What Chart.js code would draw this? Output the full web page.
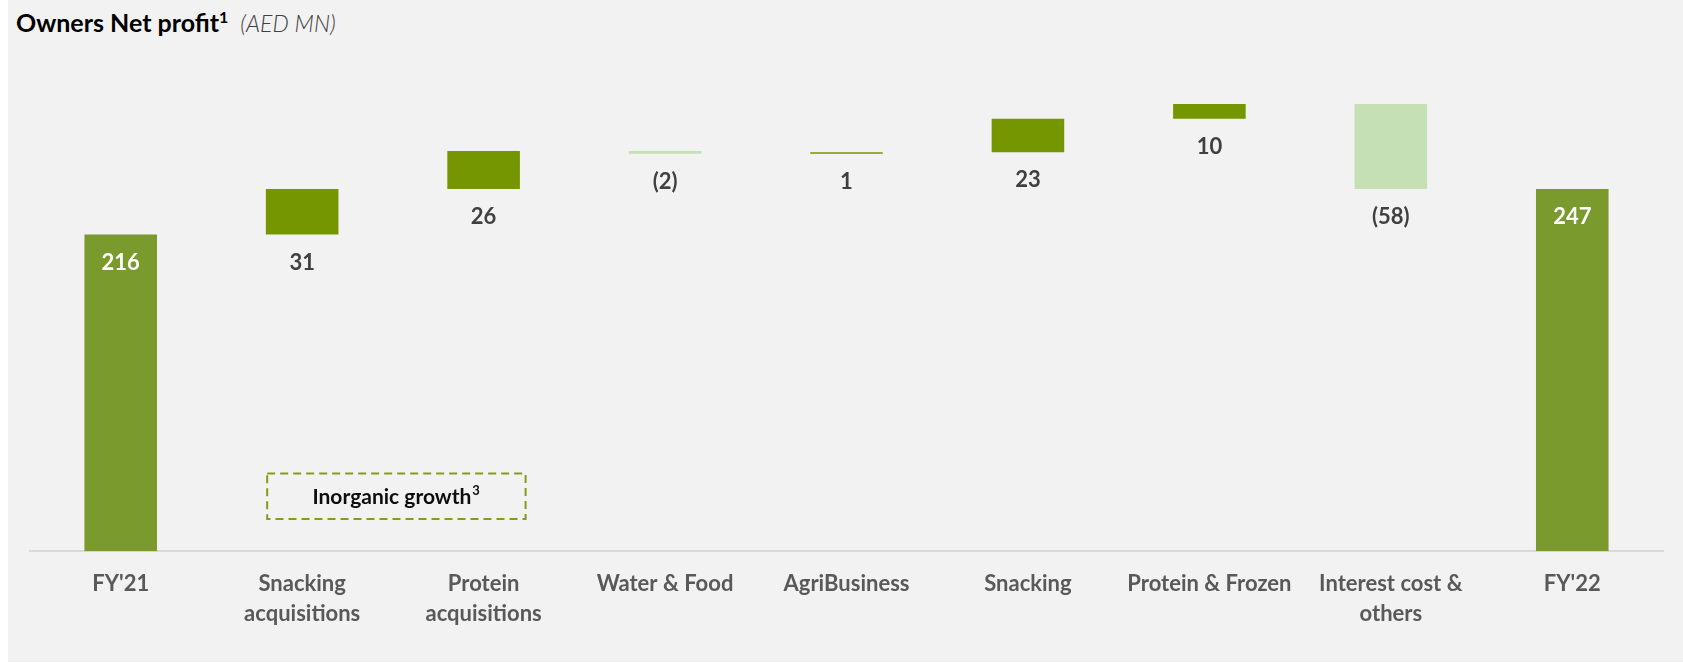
<!DOCTYPE html>
<html>
<head>
<meta charset="utf-8">
<script src="https://cdn.jsdelivr.net/npm/chart.js@4/dist/chart.umd.min.js"></script>
<style>
  html, body { margin: 0; padding: 0; background: #fff; }
  body { width: 1683px; height: 663px; position: relative; overflow: hidden; font-family: Lato, "Noto Sans", sans-serif; }
  .panel { position: absolute; left: 8px; top: 0; width: 1675px; height: 662px; background: #f2f2f2; }
  .title { position: absolute; left: 8px; top: 7px; font-size: 25px; font-weight: 700; color: #000; white-space: nowrap; }
  .title sup { font-size: 16px; vertical-align: 9px; }
  .title .unit { font-weight: 300; font-style: italic; color: #404040; font-size: 23px; margin-left: 12px; }
  #chart { position: absolute; left: 0; top: 0; }
</style>
</head>
<body>
<div class="panel">
  <div class="title">Owners Net profit<sup>1</sup><span class="unit">(AED MN)</span></div>
  <canvas id="chart" width="1675" height="662"></canvas>
</div>
<script>
// Waterfall: neto de propietarios FY'21 -> FY'22
const categories = [["FY'21"], ["Snacking", "acquisitions"], ["Protein", "acquisitions"], ["Water & Food"],
  ["AgriBusiness"], ["Snacking"], ["Protein & Frozen"], ["Interest cost &", "others"], ["FY'22"]];
const deltas = [216, 31, 26, -2, 1, 23, 10, -58, 247];
const kinds = ["total", "step", "step", "step", "step", "step", "step", "step", "total"];
const valueLabels = ["216", "31", "26", "(2)", "1", "23", "10", "(58)", "247"];

const COLORS = { total: "#7a9a2e", up: "#769600", down: "#c5e0b4" };

// rangos flotantes a partir de los deltas
let run = 0;
const ranges = deltas.map((d, i) => {
  if (kinds[i] === "total") { run = d; return [0, d]; }
  const r = [run, run + d];
  run += d;
  return r;
});
const barColors = deltas.map((d, i) => kinds[i] === "total" ? COLORS.total : (d < 0 ? COLORS.down : COLORS.up));

const labelsPlugin = {
  id: "wfLabels",
  afterDatasetsDraw(chart) {
    const { ctx } = chart;
    const meta = chart.getDatasetMeta(0);
    const y = chart.scales.y;
    ctx.save();
    ctx.textAlign = "center";
    ctx.textBaseline = "middle";
    ctx.font = "700 22px Lato";
    meta.data.forEach((bar, i) => {
      const [a, b] = ranges[i];
      if (kinds[i] === "total") {
        ctx.fillStyle = "#fff";
        ctx.fillText(valueLabels[i], bar.x, y.getPixelForValue(Math.max(a, b)) + 28);
      } else {
        ctx.fillStyle = "#404040";
        ctx.fillText(valueLabels[i], bar.x, y.getPixelForValue(Math.min(a, b)) + 28);
      }
    });
    // caja "Inorganic growth"
    const x = chart.scales.x;
    const left = x.getPixelForValue(1) - 35, right = x.getPixelForValue(2) + 42;
    const top = y.getPixelForValue(53), bottom = y.getPixelForValue(22);
    ctx.strokeStyle = "#7f9f1a";
    ctx.lineWidth = 2;
    ctx.setLineDash([8, 5]);
    ctx.strokeRect(left, top, right - left, bottom - top);
    ctx.setLineDash([]);
    ctx.fillStyle = "#0d0d0d";
    ctx.font = "700 21px Lato";
    const t = "Inorganic growth";
    const w = ctx.measureText(t).width;
    const cx = (left + right) / 2, cy = (top + bottom) / 2 + 1;
    ctx.textAlign = "left";
    ctx.fillText(t, cx - (w + 9) / 2, cy);
    ctx.font = "700 13px Lato";
    ctx.fillText("3", cx - (w + 9) / 2 + w + 1, cy - 6);
    ctx.restore();
  }
};

new Chart(document.getElementById("chart"), {
  type: "bar",
  data: {
    labels: categories,
    datasets: [{ data: ranges, backgroundColor: barColors, borderSkipped: false, barPercentage: 0.4, categoryPercentage: 1 }]
  },
  options: {
    responsive: false,
    animation: false,
    layout: { padding: { left: 22, right: 20, top: 60, bottom: 15 } },
    plugins: { legend: { display: false }, tooltip: { enabled: false } },
    scales: {
      x: {
        grid: { display: false, drawTicks: false },
        border: { color: "#d9d9d9", width: 2 },
        ticks: { color: "#595959", padding: 18, maxRotation: 0, autoSkip: false, font: { family: "Lato", size: 22, weight: 700, lineHeight: 1.36 } }
      },
      y: { display: false, min: 0, max: 335 }
    }
  },
  plugins: [labelsPlugin]
});
</script>
</body>
</html>
